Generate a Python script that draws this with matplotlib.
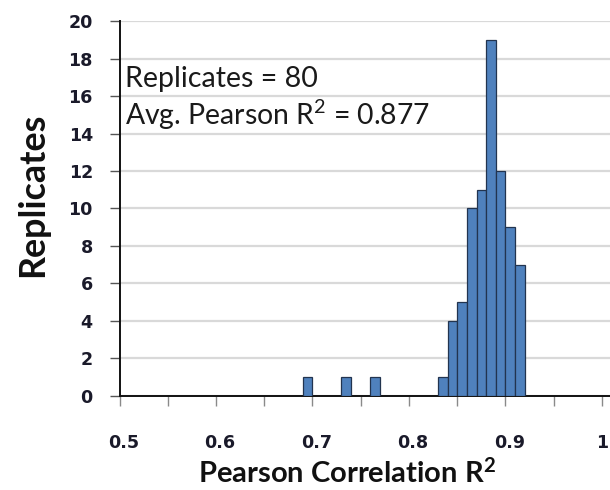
import matplotlib
matplotlib.use("Agg")
import matplotlib.pyplot as plt
import matplotlib.transforms as mtransforms
import numpy as np

# Histogram bins (left edges, width 0.01) and counts
bin_left = [0.69, 0.73, 0.76, 0.83, 0.84, 0.85, 0.86, 0.87, 0.88, 0.89, 0.90, 0.91]
counts = [1, 1, 1, 1, 4, 5, 10, 11, 19, 12, 9, 7]
bin_width = 0.01
x_major = [0.5, 0.6, 0.7, 0.8, 0.9, 1.0]
x_labels = ["0.5", "0.6", "0.7", "0.8", "0.9", "1"]
y_ticks = list(range(0, 21, 2))
annot_lines = ["Replicates = 80", r"Avg. Pearson R$^{2}$ = 0.877"]
x_title = r"Pearson Correlation R$^{\mathbf{2}}$"
y_title = "Replicates"

plt.rcParams['font.family'] = ['Lato', 'DejaVu Sans']
plt.rcParams['mathtext.fontset'] = 'custom'
plt.rcParams['mathtext.rm'] = 'Lato'
plt.rcParams['mathtext.it'] = 'Lato:italic'
plt.rcParams['mathtext.bf'] = 'Lato:bold'

W, H = 610, 490
fig = plt.figure(figsize=(6.1, 4.9), dpi=100)
ax = fig.add_axes([119.5 / W, 1 - 395.5 / H, 1 - 119.5 / W, (395.5 - 21.3) / H])

ax.bar(bin_left, counts, width=bin_width, align='edge',
       color='#4F81BD', edgecolor='#22344F', linewidth=0.9, zorder=3)

ax.set_xlim(0.5, 1.0083)
ax.set_ylim(0, 20)
ax.set_yticks(y_ticks)
ax.set_xticks(x_major)
ax.set_xticklabels(x_labels)
ax.set_xticks(np.arange(0.55, 1.0, 0.1), minor=True)

ax.yaxis.grid(True, color='#D9D9D9', linewidth=1.6, zorder=0)
ax.set_axisbelow(True)

for s in ['top', 'right']:
    ax.spines[s].set_visible(False)
for s in ['left', 'bottom']:
    ax.spines[s].set_color('#111111')
    ax.spines[s].set_linewidth(1.4)

tick_font = dict(family='DejaVu Sans', weight='bold', size=12.6)
ax.tick_params(axis='y', direction='out', length=7.2, width=1.0, color='#555555',
               labelcolor='#1a1a2a', pad=12)
ax.tick_params(axis='x', which='both', direction='out', length=7.2, width=1.0,
               color='#8a8a8a', labelcolor='#1a1a2a', pad=20.5)
for lab in ax.get_yticklabels() + ax.get_xticklabels():
    lab.set_fontproperties(matplotlib.font_manager.FontProperties(**tick_font))
offset = mtransforms.ScaledTranslation(4 / 100, 0, fig.dpi_scale_trans)
for lab in ax.get_xticklabels()[:-1]:
    lab.set_transform(lab.get_transform() + offset)

# annotation text (baselines measured in pixels, converted to data units)
px_per_unit = (395.5 - 21.3) / 20.0
t1 = ax.text(0.5 + (125 - 119.5) / 966, (395.5 - 87) / px_per_unit, annot_lines[0],
             fontsize=20, color='#1a1a1a', ha='left', va='baseline')
t2 = ax.text(0.5 + (125 - 119.5) / 966, (395.5 - 125) / px_per_unit, annot_lines[1],
             fontsize=20, color='#1a1a1a', ha='left', va='baseline')

xl = fig.text(346.5 / W, 1 - 483 / H, x_title, fontsize=19, fontweight='bold',
              ha='center', va='baseline', color='#111111')
yl = fig.text(33 / W, 1 - 195 / H, y_title, fontsize=22, fontweight='bold',
              rotation=90, ha='center', va='center', color='#111111')


def fit(t, target, dim='w'):
    for _ in range(3):
        fig.canvas.draw()
        bb = t.get_window_extent(fig.canvas.get_renderer())
        cur = bb.width if dim == 'w' else bb.height
        t.set_fontsize(t.get_fontsize() * target / cur)


fit(t1, 193)
fit(t2, 305)
fit(xl, 297)
fit(yl, 164, dim='h')

fig.savefig('out.png', dpi=100)
